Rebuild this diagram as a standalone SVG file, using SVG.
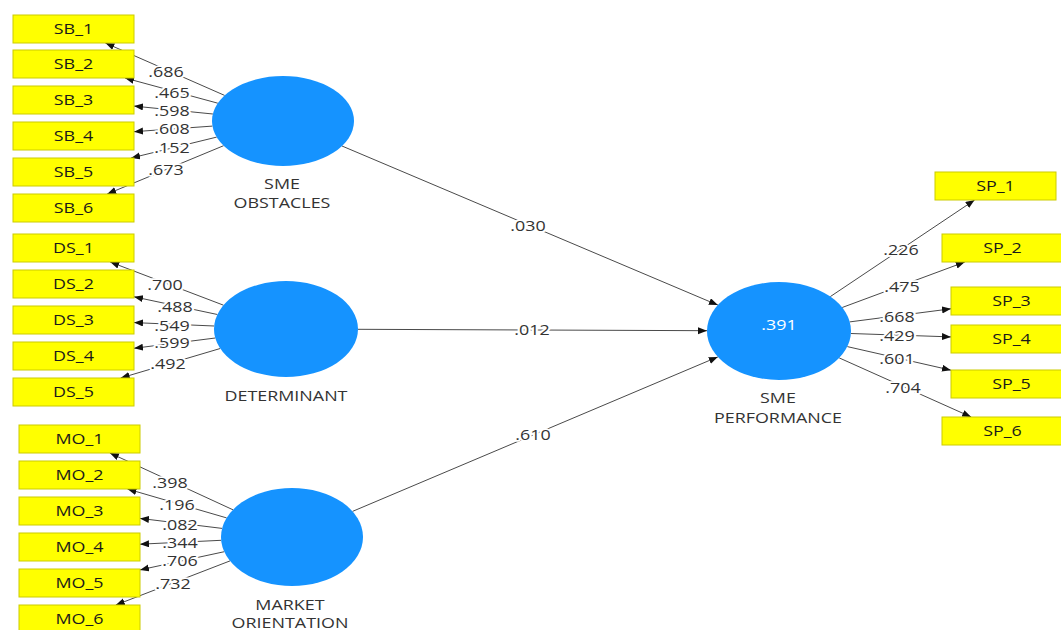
<svg xmlns="http://www.w3.org/2000/svg" width="1061" height="630" viewBox="0 0 1061 630">
<style>
text{font-family:"Open Sans","Noto Sans","DejaVu Sans",sans-serif;font-size:14px;text-anchor:middle;transform-box:fill-box;transform-origin:center;transform:scaleX(1.28)}
.box rect{fill:#ffff00;stroke:#cccc00;stroke-width:1}
.box text{fill:#1a1a1a}
.lv{fill:#1593ff}
.nl{fill:#333}
.val{fill:#fff}
.c line{stroke:#4a4a4a;stroke-width:1;marker-end:url(#ah)}
.lbl{fill:#333;stroke:#fff;stroke-width:3.5;paint-order:stroke;stroke-linejoin:round}
</style>
<defs>
<marker id="ah" markerUnits="userSpaceOnUse" markerWidth="10" markerHeight="8" refX="9" refY="3.5" orient="auto">
<path d="M0,0 L9,3.5 L0,7 z" fill="#111"/>
</marker>
</defs>
<rect width="1061" height="630" fill="#fff"/>

<g class="c" id="connectors">
<line x1="224.6" y1="95.4" x2="105.4" y2="43"/>
<line x1="217.8" y1="103.2" x2="125" y2="78"/>
<line x1="212.9" y1="114" x2="134" y2="106.1"/>
<line x1="212.4" y1="126.1" x2="134" y2="131.7"/>
<line x1="216.7" y1="137.1" x2="131.1" y2="158"/>
<line x1="223.6" y1="145.7" x2="107.2" y2="194"/>
<line x1="223.5" y1="305.2" x2="110.2" y2="262"/>
<line x1="217.4" y1="314.5" x2="134" y2="296.8"/>
<line x1="214.2" y1="326" x2="134" y2="322.6"/>
<line x1="215.3" y1="338" x2="134" y2="348.3"/>
<line x1="220.2" y1="348.5" x2="120.7" y2="378"/>
<line x1="233" y1="509.8" x2="109.9" y2="453"/>
<line x1="226.6" y1="517.9" x2="127.5" y2="489"/>
<line x1="222.1" y1="528.4" x2="140" y2="518.4"/>
<line x1="221.2" y1="540.3" x2="140" y2="544.2"/>
<line x1="224.3" y1="551.7" x2="140" y2="569.9"/>
<line x1="230" y1="560.9" x2="115.8" y2="605"/>
<line x1="830.3" y1="296.6" x2="974.6" y2="200"/>
<line x1="842.2" y1="307.5" x2="964.8" y2="262"/>
<line x1="849.7" y1="321.9" x2="951" y2="308.8"/>
<line x1="850.9" y1="333.5" x2="951" y2="336.9"/>
<line x1="847.3" y1="346.6" x2="951" y2="370.2"/>
<line x1="839.2" y1="357.9" x2="971.2" y2="417"/>
<line x1="342" y1="146" x2="717.9" y2="305.1"/>
<line x1="358" y1="329.3" x2="707" y2="330.7"/>
<line x1="352.5" y1="511.4" x2="717.8" y2="356.9"/>
<g id="path-labels">
<text class="lbl" x="166" y="77">.686</text>
<text class="lbl" x="172" y="98">.465</text>
<text class="lbl" x="172" y="116">.598</text>
<text class="lbl" x="172" y="134">.608</text>
<text class="lbl" x="172" y="153">.152</text>
<text class="lbl" x="166" y="175">.673</text>
<text class="lbl" x="165" y="290">.700</text>
<text class="lbl" x="175" y="312">.488</text>
<text class="lbl" x="172" y="331">.549</text>
<text class="lbl" x="172" y="348">.599</text>
<text class="lbl" x="168" y="369">.492</text>
<text class="lbl" x="170" y="488">.398</text>
<text class="lbl" x="177" y="510">.196</text>
<text class="lbl" x="180" y="530">.082</text>
<text class="lbl" x="180" y="548">.344</text>
<text class="lbl" x="180" y="566">.706</text>
<text class="lbl" x="173" y="589">.732</text>
<text class="lbl" x="901" y="255">.226</text>
<text class="lbl" x="902" y="292">.475</text>
<text class="lbl" x="897" y="322">.668</text>
<text class="lbl" x="897" y="341">.429</text>
<text class="lbl" x="897" y="364">.601</text>
<text class="lbl" x="903" y="393">.704</text>
<text class="lbl" x="528" y="231">.030</text>
<text class="lbl" x="532" y="335">.012</text>
<text class="lbl" x="533" y="440">.610</text>
</g>
</g>

<g id="SME_OBSTACLES"><ellipse class="lv" cx="283" cy="121" rx="71" ry="45"/><text class="nl" x="282" y="189">SME</text><text class="nl" x="282" y="208">OBSTACLES</text></g>
<g id="DETERMINANT"><ellipse class="lv" cx="286" cy="329" rx="72" ry="48"/><text class="nl" x="286" y="401">DETERMINANT</text></g>
<g id="MARKET_ORIENTATION"><ellipse class="lv" cx="292" cy="537" rx="71" ry="49"/><text class="nl" x="290" y="610">MARKET</text><text class="nl" x="290" y="628">ORIENTATION</text></g>
<g id="SME_PERFORMANCE"><ellipse class="lv" cx="779" cy="331" rx="72" ry="49"/><text class="val" x="779" y="330">.391</text><text class="nl" x="778" y="403">SME</text><text class="nl" x="778" y="423">PERFORMANCE</text></g>

<g id="SB_1" class="box"><rect x="13" y="15" width="121" height="28"/><text x="73.5" y="34">SB_1</text></g>
<g id="SB_2" class="box"><rect x="13" y="50" width="121" height="28"/><text x="73.5" y="69">SB_2</text></g>
<g id="SB_3" class="box"><rect x="13" y="86" width="121" height="28"/><text x="73.5" y="105">SB_3</text></g>
<g id="SB_4" class="box"><rect x="13" y="122" width="121" height="28"/><text x="73.5" y="141">SB_4</text></g>
<g id="SB_5" class="box"><rect x="13" y="158" width="121" height="28"/><text x="73.5" y="177">SB_5</text></g>
<g id="SB_6" class="box"><rect x="13" y="194" width="121" height="28"/><text x="73.5" y="213">SB_6</text></g>

<g id="DS_1" class="box"><rect x="13" y="234" width="121" height="28"/><text x="73.5" y="253">DS_1</text></g>
<g id="DS_2" class="box"><rect x="13" y="270" width="121" height="28"/><text x="73.5" y="289">DS_2</text></g>
<g id="DS_3" class="box"><rect x="13" y="306" width="121" height="28"/><text x="73.5" y="325">DS_3</text></g>
<g id="DS_4" class="box"><rect x="13" y="342" width="121" height="28"/><text x="73.5" y="361">DS_4</text></g>
<g id="DS_5" class="box"><rect x="13" y="378" width="121" height="28"/><text x="73.5" y="397">DS_5</text></g>

<g id="MO_1" class="box"><rect x="19" y="425" width="121" height="28"/><text x="79.5" y="444">MO_1</text></g>
<g id="MO_2" class="box"><rect x="19" y="461" width="121" height="28"/><text x="79.5" y="480">MO_2</text></g>
<g id="MO_3" class="box"><rect x="19" y="497" width="121" height="28"/><text x="79.5" y="516">MO_3</text></g>
<g id="MO_4" class="box"><rect x="19" y="533" width="121" height="28"/><text x="79.5" y="552">MO_4</text></g>
<g id="MO_5" class="box"><rect x="19" y="569" width="121" height="28"/><text x="79.5" y="588">MO_5</text></g>
<g id="MO_6" class="box"><rect x="19" y="605" width="121" height="28"/><text x="79.5" y="624">MO_6</text></g>

<g id="SP_1" class="box"><rect x="935" y="172" width="121" height="28"/><text x="995.5" y="191">SP_1</text></g>
<g id="SP_2" class="box"><rect x="942" y="234" width="121" height="28"/><text x="1002.5" y="253">SP_2</text></g>
<g id="SP_3" class="box"><rect x="951" y="287" width="121" height="28"/><text x="1011.5" y="306">SP_3</text></g>
<g id="SP_4" class="box"><rect x="951" y="325" width="121" height="28"/><text x="1011.5" y="344">SP_4</text></g>
<g id="SP_5" class="box"><rect x="951" y="370" width="121" height="28"/><text x="1011.5" y="389">SP_5</text></g>
<g id="SP_6" class="box"><rect x="942" y="417" width="121" height="28"/><text x="1002.5" y="436">SP_6</text></g>
</svg>
